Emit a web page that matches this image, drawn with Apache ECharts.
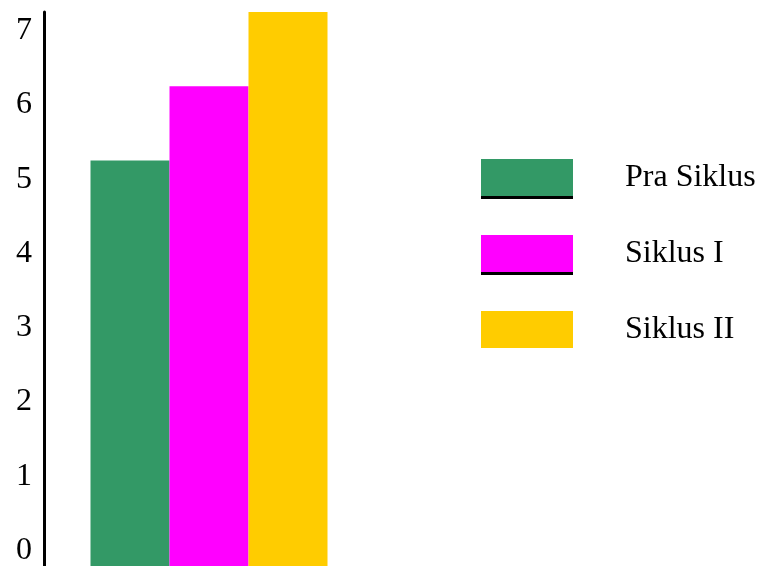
<!DOCTYPE html>
<html>
<head>
<meta charset="utf-8">
<script src="https://cdn.jsdelivr.net/npm/echarts@6/dist/echarts.min.js"></script>
<style>html,body{margin:0;padding:0;background:#fff}#c{width:758px;height:566px}</style>
</head>
<body>
<div id="c"></div>
<script>
const categories = ['Siklus'];
const seriesNames = ['Pra Siklus', 'Siklus I', 'Siklus II'];
const praSiklus = [5.5];
const siklusI = [6.5];
const siklusII = [7.5];
const yTicks = [0, 1, 2, 3, 4, 5, 6, 7];

const colors = ['#339966', '#FF00FF', '#FFCC00'];
const font = "'Liberation Serif', 'Times New Roman', serif";
const chart = echarts.init(document.getElementById('c'), null, {renderer: 'canvas'});
const values = [praSiklus, siklusI, siklusII];

chart.setOption({
  animation: false,
  backgroundColor: '#fff',
  grid: {left: 44, right: 384, top: 12, bottom: -3, containLabel: false, outerBoundsMode: 'none'},
  xAxis: {
    type: 'category', data: categories,
    axisLine: {show: false}, axisTick: {show: false}, axisLabel: {show: false}, splitLine: {show: false}
  },
  yAxis: [{
    type: 'value', min: 0, max: 7.5, interval: 0.5,
    axisLine: {show: true, lineStyle: {color: '#000', width: 3}},
    axisTick: {show: false},
    splitLine: {show: false},
    axisLabel: {show: false}
  }, {
    type: 'value', position: 'left', min: -0.25, max: 7.25, interval: 0.25,
    axisLine: {show: false}, axisTick: {show: false}, splitLine: {show: false},
    axisLabel: {
      color: '#000', fontFamily: font, fontSize: 32, margin: 12,
      showMinLabel: true, showMaxLabel: true, hideOverlap: false,
      formatter: v => yTicks.includes(v) ? String(v) : ''
    }
  }],
  legend: {
    orient: 'vertical', left: 481, top: 159, padding: 0,
    icon: 'rect',
    itemWidth: 92, itemHeight: 37, itemGap: 39,
    textStyle: {color: '#000', fontFamily: font, fontSize: 32, padding: [0, 0, 0, 47]},
    data: [
      {name: seriesNames[0], itemStyle: {shadowColor: '#000', shadowBlur: 0, shadowOffsetY: 3}},
      {name: seriesNames[1], itemStyle: {shadowColor: '#000', shadowBlur: 0, shadowOffsetY: 3}},
      {name: seriesNames[2]}
    ]
  },
  series: seriesNames.map((n, i) => ({
    name: n, type: 'bar', yAxisIndex: 0, data: values[i], barWidth: 79, barGap: '0%',
    itemStyle: {color: colors[i]}
  }))
});
</script>
</body>
</html>
